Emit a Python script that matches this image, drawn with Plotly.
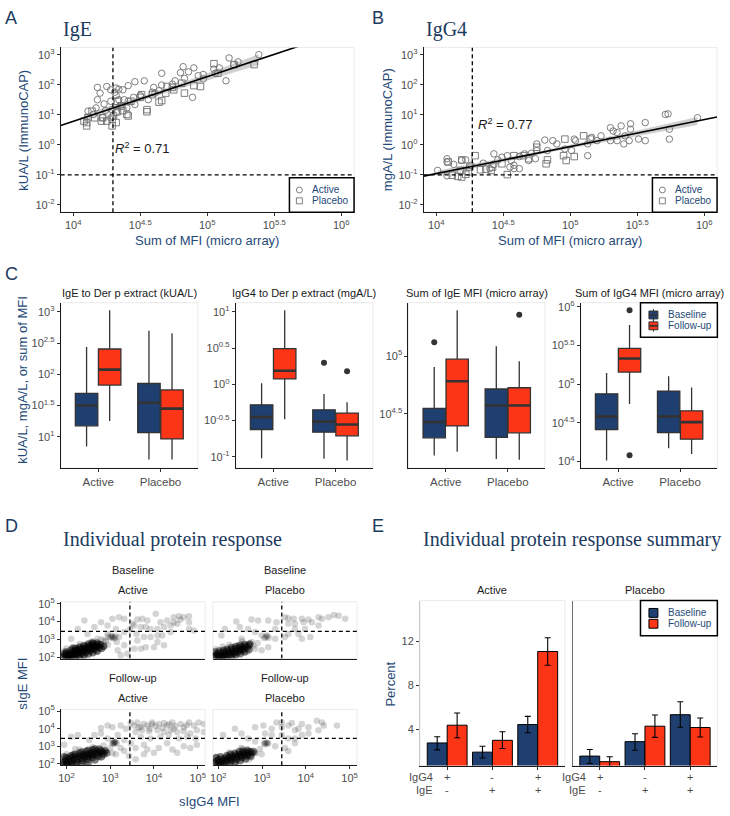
import numpy as np
import plotly.graph_objects as go

# ------------------------------------------------------------------ data
# Panel A (IgE): (log10 sum of MFI, log10 kUA/L)
A_ACTIVE = [(5.385,3.0),(5.163,2.89),(5.198,2.67),(5.049,2.52),(4.970,2.34),(4.933,2.30),(4.86,2.43),(4.90,2.56),
            (4.80,2.40),(4.83,2.21),(4.74,2.02),(4.66,2.38),(4.66,1.99),(4.60,1.91),(4.53,2.13),(4.46,2.10),
            (4.61,1.72),(4.89,1.58),(4.97,2.19),(5.14,2.13),(5.23,2.76),(5.09,2.56),(5.06,2.38),(4.82,2.60),
            (4.76,2.13),(4.64,1.80),(4.41,1.97),(4.37,1.83),(4.31,1.75),(4.34,1.50),(4.40,1.23),(4.46,1.34),
            (4.50,1.64),(4.56,1.50),(4.59,1.75),(4.18,1.91),(4.25,1.94),(4.28,1.83),(4.32,1.89),(4.34,1.85),
            (4.20,1.72),(4.18,1.50),(4.23,1.36),(4.28,1.45),(4.32,1.64),(4.17,1.23),(4.24,1.14),(4.29,1.17),
            (4.35,1.31),(4.41,1.45),(4.45,1.58),(4.38,1.50),(4.22,0.90),(4.28,0.90),(4.32,1.07),(4.15,1.01),
            (4.11,1.12)]
A_PLACEBO = [(5.35,2.67),(5.08,2.38),(5.05,2.70),(5.20,2.67),(4.90,1.97),(4.95,1.94),(4.83,1.72),(4.75,1.83),
             (4.69,1.72),(4.66,1.47),(4.64,1.42),(4.55,1.17),(4.55,1.10),(4.50,1.58),(4.40,1.01),(4.41,0.96),
             (4.37,1.14),(4.33,1.10),(4.36,1.28),(4.30,0.96),(4.29,0.85),(4.32,0.74),(4.29,0.63),(4.25,0.79),
             (4.22,0.90),(4.21,0.79),(4.16,0.90),(4.14,1.12),(4.11,0.90),(4.10,0.74),(4.10,0.63),(4.08,0.79),
             (4.33,1.45),(4.43,1.45),(4.51,1.67),(4.59,1.67),(4.70,1.94),(4.74,1.91),(4.81,2.05)]
A_FIT = (-5.164, 1.486)          # log10(y) = a + b*log10(x)
A_R2 = "0.71"
A_CUTOFF_X = 4.296               # log10 MFI cut-off
A_CUTOFF_Y = -1.0                # log10 kUA/L cut-off

# Panel B (IgG4)
B_ACTIVE = [(5.95,0.90),(5.71,1.01),(5.73,1.03),(5.74,0.19),(5.74,0.52),(5.56,0.74),(5.45,0.70),(5.38,0.63),
            (5.30,0.57),(5.32,0.46),(5.35,0.41),(5.45,0.52),(5.41,0.30),(5.44,0.14),(5.40,0.03),(5.51,0.19),
            (5.56,0.14),(5.35,0.14),(5.30,0.14),(5.23,0.30),(5.20,0.14),(5.16,0.25),(5.13,0.03),(5.13,-0.36),
            (5.04,0.14),(5.03,0.19),(5.01,-0.19),(4.96,-0.14),(4.90,0.03),(4.87,0.14),(4.81,0.16),(4.83,-0.19),
            (4.75,0.03),(4.75,-0.19),(4.71,-0.28),(4.69,-0.52),(4.74,-0.46),(4.66,-0.30),(4.62,-0.39),(4.56,-0.52),
            (4.58,-0.68),(4.58,-0.79),(4.53,-0.36),(4.49,-0.41),(4.46,-0.50),(4.43,-0.65),(4.35,-0.61),(4.43,-0.30),
            (4.62,-0.79),(4.55,-0.74),(4.08,-0.46),(4.08,-0.57),(4.13,-0.65),(4.19,-0.52),(4.22,-0.50),(4.26,-0.68),
            (4.01,-0.85),(4.08,-1.03),(4.40,-0.79)]
B_PLACEBO = [(5.10,0.30),(5.15,0.19),(4.96,0.19),(4.95,-0.36),(5.03,-0.39),(4.97,-0.52),(4.75,-0.08),(4.83,-0.50),
             (4.82,-0.63),(4.69,-0.46),(4.65,-0.36),(4.58,-0.36),(4.49,-0.63),(4.42,-0.74),(4.41,-0.85),(4.37,-0.81),
             (4.33,-0.83),(4.29,-0.36),(4.53,-0.99),(4.19,-0.50),(4.09,-0.57),(4.25,-0.74),(4.18,-0.85),(4.12,-1.01),
             (4.16,-1.05),(4.19,-1.07),(4.22,-0.98),(4.24,-0.90)]
B_FIT = (-4.544, 0.897)
B_R2 = "0.77"
B_CUTOFF_X = 4.269
B_CUTOFF_Y = -1.0

# Panel C: box statistics, log10 units, [Active, Placebo] per measure
C_TITLES = ["IgE to Der p extract (kUA/L)", "IgG4 to Der p extract (mgA/L)",
            "Sum of IgE MFI (micro array)", "Sum of IgG4 MFI (micro array)"]
C_GROUPS = ["Active", "Placebo"]
C_TIMEPOINTS = ["Baseline", "Follow-up"]
C_BASE_LOW  = [[0.844, 0.634], [-1.018, -1.027], [4.137, 4.106], [4.012, 4.170]]
C_BASE_Q1   = [[1.175, 1.065], [-0.623, -0.660], [4.291, 4.295], [4.413, 4.374]]
C_BASE_MED  = [[1.500, 1.544], [-0.452, -0.514], [4.428, 4.572], [4.582, 4.582]]
C_BASE_Q3   = [[1.696, 1.853], [-0.283, -0.351], [4.546, 4.715], [4.876, 4.911]]
C_BASE_HIGH = [[2.437, 2.696], [0.016, -0.133], [4.906, 5.086], [5.144, 5.102]]
C_FU_LOW    = [[1.254, 0.634], [-0.483, -1.050], [4.171, 4.100], [4.745, 4.097]]
C_FU_Q1     = [[1.828, 0.965], [0.075, -0.710], [4.394, 4.334], [5.157, 4.289]]
C_FU_MED    = [[2.074, 1.450], [0.188, -0.555], [4.783, 4.572], [5.332, 4.510]]
C_FU_Q3     = [[2.405, 1.749], [0.492, -0.397], [4.974, 4.726], [5.464, 4.655]]
C_FU_HIGH   = [[3.027, 2.658], [1.023, -0.248], [5.400, 4.957], [5.766, 4.957]]
# outliers: (measure index, group index, timepoint, log10 value)
C_OUTLIERS = [(1, 1, "Baseline", 0.297), (1, 1, "Follow-up", 0.180),
              (2, 0, "Baseline", 5.120), (2, 1, "Follow-up", 5.360),
              (3, 0, "Follow-up", 5.958), (3, 0, "Follow-up", 4.080)]
C_Y_TICKS = [[1, 1.5, 2, 2.5, 3], [-1, -0.5, 0, 0.5, 1], [4.5, 5], [4, 4.5, 5, 5.5, 6]]

# Panel D: individual proteins, (log10 sIgG4 MFI, log10 sIgE MFI)
D_BASE_ACT = [(4.04,4.43),(4.45,4.24),(4.57,4.30),(4.68,4.24),(4.80,4.30),(4.30,4.06),(4.15,3.96),(3.85,4.06),
              (3.73,4.15),(3.62,4.11),(3.51,3.87),(3.55,3.78),(3.70,3.69),(3.81,3.69),(3.92,3.59),(4.08,3.59),
              (4.23,3.69),(4.38,3.78),(4.53,3.87),(4.80,3.96),(4.91,3.50),(4.80,3.59),(4.38,3.41),(4.08,3.22),
              (3.92,3.13),(3.77,3.13),(3.62,2.94),(3.55,2.48),(3.70,2.48),(3.81,2.57),(4.00,2.57),(4.23,2.67),
              (4.08,2.85),(4.19,3.22),(3.32,4.15),(3.20,4.24),(3.05,4.15),(2.79,3.96),(2.41,4.06),(2.64,3.69),
              (2.94,3.78),(3.13,3.59),(3.32,3.41),(3.20,3.13),(3.05,3.13),(2.94,3.31),(2.86,2.94),(2.71,3.04),
              (2.56,2.85),(2.48,3.31),(2.11,3.04),(2.26,3.59),(3.32,2.67),(3.39,2.20),(3.24,2.11),(3.17,2.39),
              (3.00,3.10),(3.05,3.15),(3.10,3.10),(3.02,3.20),(3.08,3.05),(2.95,3.15),(3.12,3.18),
              (2.00,2.50),(2.30,2.75),(2.60,2.90),(2.85,2.60),(2.70,2.30),(2.40,2.00),(1.95,2.35),(2.90,2.90),
              (2.80,3.00),(2.55,2.75),(2.95,2.70),(3.15,2.85),(3.45,3.55),(3.60,3.30),(4.45,3.95),(4.60,4.10)]
D_BASE_PLA = [(2.41,4.00),(2.76,4.11),(2.91,4.06),(3.14,4.06),(3.33,3.96),(3.52,4.24),(3.60,4.19),(3.72,4.15),
              (3.91,4.15),(4.06,4.11),(4.29,4.24),(4.37,4.15),(4.52,4.24),(4.64,4.37),(4.75,4.33),(4.90,4.15),
              (3.60,3.87),(3.75,3.87),(3.95,3.96),(4.14,3.96),(3.75,3.59),(3.98,3.59),(4.29,3.78),(3.60,3.31),
              (3.83,3.31),(3.91,3.04),(4.10,3.13),(3.52,3.13),(3.30,3.04),(2.99,3.22),(2.84,3.41),(2.68,3.59),
              (2.49,3.69),(2.15,3.59),(2.53,3.04),(2.76,2.85),(3.14,2.57),(2.84,2.48),(2.99,2.39),(2.45,2.67),
              (2.07,3.22),(3.30,3.59),
              (3.08,3.12),(3.12,3.18),(3.05,3.08),(3.15,3.10),(3.10,3.22),
              (1.95,2.45),(2.25,2.70),(2.55,2.90),(2.80,2.65),(2.65,2.30),(2.35,2.05),(2.90,2.80),(2.10,2.60)]
D_FU_ACT = [(2.79,4.04),(2.94,4.18),(3.05,4.09),(3.24,4.18),(3.36,4.00),(3.47,4.33),(3.55,4.18),(3.62,4.36),
            (3.70,4.09),(3.77,4.27),(3.85,4.18),(3.96,4.36),(4.04,4.15),(4.11,4.27),(4.23,4.33),(4.30,4.18),
            (4.42,4.36),(4.49,4.15),(4.61,4.27),(4.68,4.09),(4.80,4.36),(4.91,4.18),(5.02,4.36),(5.14,4.27),
            (3.58,3.82),(3.73,3.91),(3.89,3.85),(4.08,3.91),(4.23,3.82),(4.38,3.91),(4.53,3.82),(4.68,3.85),
            (4.83,3.73),(4.98,3.91),(5.14,3.82),(3.70,3.55),(3.92,3.45),(4.15,3.55),(4.34,3.64),(4.57,3.45),
            (4.76,3.55),(4.95,3.45),(3.77,3.09),(4.00,2.64),(4.11,2.91),(4.30,3.18),(4.42,2.82),(4.53,2.64),
            (4.68,3.00),(4.83,2.91),(4.98,3.09),(3.85,2.82),(3.58,2.91),(3.47,3.18),(3.32,3.36),(3.17,3.64),
            (3.09,3.27),(2.94,3.45),(2.79,3.73),(2.64,3.64),(2.52,3.36),(2.26,3.64),(2.11,3.55),(1.95,3.09),
            (3.24,2.91),(3.32,2.73),(3.13,2.55),(3.43,2.45),(3.58,2.27),(3.77,2.55),
            (3.05,3.20),(3.10,3.15),(3.12,3.25),(3.08,3.22),(3.15,3.18),(3.06,3.16),(3.11,3.21),
            (2.00,2.55),(2.30,2.80),(2.60,2.95),(2.90,2.70),(2.75,2.35),(2.45,2.00),(3.00,2.90),(2.85,3.05),
            (2.20,2.85),(1.95,2.30),(3.05,2.60),(3.65,4.05),(3.90,4.00),(4.20,4.05),(4.45,4.00),(4.75,4.20),
            (3.95,4.25),(4.35,4.25)]
D_FU_PLA = [(2.38,4.00),(2.53,3.73),(2.84,4.09),(3.03,4.18),(3.22,4.00),(3.33,4.36),(3.45,4.09),(3.60,4.18),
            (3.68,4.33),(3.75,3.91),(3.91,4.27),(4.06,4.09),(4.25,4.45),(4.37,4.36),(4.41,4.18),(4.71,4.18),
            (3.07,3.73),(3.22,3.64),(3.45,3.64),(3.60,3.45),(3.75,3.45),(3.91,3.64),(4.06,3.73),(3.52,2.91),
            (3.60,2.73),(3.75,3.18),(3.14,3.18),(3.30,3.00),(2.84,3.27),(2.68,3.45),(2.11,3.64),(2.53,2.91),
            (2.84,2.64),(2.99,2.55),(2.76,2.36),(3.45,4.36),(3.83,4.00),(4.29,3.91),
            (3.05,3.15),(3.10,3.20),(3.08,3.12),(3.12,3.18),(3.06,3.22),
            (1.95,2.40),(2.25,2.65),(2.55,2.85),(2.85,2.60),(2.70,2.25),(2.40,2.00),(2.95,2.85)]
# dense low-signal cores of the clouds (same units)
D_BASE_ACT_CORE = [(1.92,2.05),(1.97,2.10),(2.00,2.18),(2.04,2.08),(2.07,2.22),(2.10,2.14),(2.13,2.28),(2.16,2.18),
                   (2.19,2.32),(2.22,2.22),(2.25,2.38),(2.28,2.26),(2.31,2.42),(2.34,2.30),(2.37,2.46),(2.40,2.36),
                   (2.43,2.50),(2.46,2.40),(2.49,2.55),(2.52,2.46),(2.55,2.60),(2.58,2.50),(2.61,2.64),(2.64,2.56),
                   (2.67,2.68),(2.70,2.62),(2.74,2.72),(2.78,2.70),(2.05,2.02),(2.15,2.06),(2.25,2.12),(2.35,2.20),
                   (2.45,2.28),(2.55,2.36),(2.65,2.45),(2.30,2.50),(2.40,2.58),(2.50,2.64),(2.20,2.40),(2.60,2.74),
                   (2.00,2.30),(2.10,2.40),(2.20,2.50),(2.30,2.58),(2.40,2.66),(2.50,2.74),(2.60,2.80),(2.70,2.80),
                   (2.00,1.98),(2.10,2.00),(2.20,2.04),(2.30,2.08),(2.40,2.12),(2.50,2.18),(2.60,2.26),(2.70,2.36),
                   (2.80,2.50),(1.95,2.22),(2.15,2.52),(2.55,2.48),(2.75,2.55),(2.85,2.62)]
D_BASE_PLA_CORE = [(1.90,2.05),(1.95,2.12),(1.98,2.20),(2.02,2.08),(2.06,2.25),(2.10,2.15),(2.14,2.30),(2.18,2.20),
                   (2.22,2.35),(2.26,2.25),(2.30,2.42),(2.34,2.30),(2.38,2.48),(2.42,2.36),(2.46,2.52),(2.50,2.42),
                   (2.54,2.58),(2.58,2.48),(2.62,2.62),(2.66,2.55),(2.70,2.68),(2.05,2.02),(2.15,2.08),(2.25,2.15),
                   (2.35,2.22),(2.45,2.30),(2.55,2.40),(2.20,2.45),(2.40,2.60),(2.60,2.72),(1.92,2.30),(2.12,2.40),
                   (2.00,1.98),(2.10,2.00),(2.20,2.04),(2.30,2.08),(2.40,2.14),(2.50,2.20),(2.60,2.30),(2.70,2.42),
                   (2.02,2.35),(2.30,2.55),(2.50,2.68),(2.72,2.74)]
D_FU_ACT_CORE = [(1.90,2.00),(1.94,2.10),(1.98,2.20),(2.02,2.05),(2.06,2.30),(2.10,2.15),(2.14,2.35),(2.18,2.22),
                 (2.22,2.40),(2.26,2.28),(2.30,2.45),(2.34,2.32),(2.38,2.50),(2.42,2.38),(2.46,2.55),(2.50,2.42),
                 (2.54,2.60),(2.58,2.48),(2.62,2.65),(2.66,2.55),(2.70,2.70),(2.74,2.60),(2.78,2.75),(2.82,2.68),
                 (2.00,1.98),(2.12,2.02),(2.24,2.10),(2.36,2.18),(2.48,2.26),(2.60,2.36),(2.72,2.45),(2.15,2.50),
                 (2.30,2.62),(2.45,2.72),(2.60,2.80),(1.95,2.40),(2.85,2.55),(2.05,2.12),(2.40,2.45),(2.55,2.52),
                 (2.00,2.35),(2.10,2.45),(2.20,2.55),(2.35,2.68),(2.50,2.78),(2.65,2.85),(2.75,2.85),(2.88,2.75),
                 (2.20,1.98),(2.35,2.02),(2.50,2.10),(2.65,2.22),(2.80,2.40),(2.92,2.62)]
D_FU_PLA_CORE = [(1.92,2.05),(1.96,2.15),(2.00,2.22),(2.04,2.10),(2.08,2.28),(2.12,2.18),(2.16,2.33),(2.20,2.22),
                 (2.24,2.38),(2.28,2.28),(2.32,2.44),(2.36,2.33),(2.40,2.50),(2.44,2.40),(2.48,2.55),(2.52,2.45),
                 (2.56,2.60),(2.60,2.50),(2.64,2.66),(2.68,2.58),(2.72,2.70),(2.06,2.02),(2.18,2.10),(2.30,2.18),
                 (2.42,2.26),(2.54,2.35),(2.66,2.45),(2.20,2.48),(2.38,2.60),(2.56,2.72),(1.95,2.35),(2.76,2.62),
                 (2.00,1.98),(2.12,2.00),(2.25,2.04),(2.38,2.10),(2.50,2.18),(2.62,2.28),(2.74,2.45),
                 (2.05,2.40),(2.28,2.55),(2.48,2.70),(2.66,2.78),(2.80,2.70)]
D_CUTOFF = 3.45                  # log10 MFI threshold for both isotypes

# Panel E: percent of proteins per response pattern
E_PATTERN_IGG4 = ["+", "-", "+"]
E_PATTERN_IGE = ["-", "+", "+"]
E_ACT_BASE = [2.74, 1.90, 4.42];  E_ACT_BASE_LO = [2.11, 1.36, 3.67];  E_ACT_BASE_HI = [3.31, 2.44, 5.17]
E_ACT_FU   = [4.36, 2.98, 11.09]; E_ACT_FU_LO   = [3.22, 2.23, 9.83];  E_ACT_FU_HI   = [5.47, 3.76, 12.35]
E_PLA_BASE = [1.54, 2.86, 5.32];  E_PLA_BASE_LO = [0.87, 2.08, 4.18];  E_PLA_BASE_HI = [2.14, 3.58, 6.50]
E_PLA_FU   = [1.03, 4.27, 4.15];  E_PLA_FU_LO   = [0.60, 3.25, 3.28];  E_PLA_FU_HI   = [1.48, 5.29, 5.02]

# ------------------------------------------------------------------ style
W, H = 730, 816
BLUE = "#1e3f6f"
RED = "#fd3517"
NAVY = "#1f4a78"
LETTER = "#1c3a60"
TICKC = "#4d4d4d"
PTGRAY = "#707070"
SANS = "Liberation Sans, Arial, sans-serif"
SERIF = "Liberation Serif, Times New Roman, serif"


def fx(p):
    return p / W


def fy(p):
    return 1 - p / H


fig = go.Figure()
layout = dict(width=W, height=H, margin=dict(l=0, r=0, t=0, b=0), showlegend=False,
              paper_bgcolor="white", plot_bgcolor="white", barmode="overlay",
              boxmode="overlay", hovermode=False)
annotations = []
shapes = []


def axname(i, k):
    return f"{k}axis" if i == 1 else f"{k}axis{i}"


def axref(i, k):
    return k if i == 1 else f"{k}{i}"


def base_axis(**kw):
    d = dict(showgrid=False, zeroline=False, showline=True, linecolor="#1a1a1a", linewidth=1,
             ticks="outside", ticklen=3, tickwidth=1, tickcolor="#333333",
             tickfont=dict(family=SANS, size=11, color=TICKC))
    d.update(kw)
    return d


def make_axes(i, xpx, ypx, xkw, ykw, border="#ebebeb"):
    layout[axname(i, "x")] = base_axis(domain=[fx(xpx[0]), fx(xpx[1])], anchor=axref(i, "y"), **xkw)
    layout[axname(i, "y")] = base_axis(domain=[fy(ypx[1]), fy(ypx[0])], anchor=axref(i, "x"), **ykw)
    shapes.append(dict(type="rect", xref=f"{axref(i, 'x')} domain", yref=f"{axref(i, 'y')} domain",
                       x0=0, x1=1, y0=0, y1=1, line=dict(color=border, width=1), layer="below"))


def fmt(e):
    return str(int(e)) if float(e).is_integer() else str(e)


def log_ticks(exps):
    return dict(tickvals=[10.0 ** e for e in exps], ticktext=[f"10<sup>{fmt(e)}</sup>" for e in exps])


def ann(text, x, y, size=11, color="#1a1a1a", family=SANS, xanchor="center", yanchor="middle",
        angle=0, xref="paper", yref="paper"):
    annotations.append(dict(text=text, x=x, y=y, xref=xref, yref=yref, showarrow=False,
                            xanchor=xanchor, yanchor=yanchor, textangle=angle,
                            font=dict(family=family, size=size, color=color)))


def pshape(kind, x0, y0, x1, y1, **kw):
    shapes.append(dict(type=kind, xref="paper", yref="paper", x0=fx(x0), x1=fx(x1),
                       y0=fy(y1), y1=fy(y0), layer="above", **kw))


def legend_box(box, key_x, text_x, entries, key):
    """box: (left, top, right, bottom) px; entries: (label, colour) drawn with key()."""
    pshape("rect", box[0], box[1], box[2], box[3], line=dict(color="black", width=1.5), fillcolor="white")
    for k, (label, col) in enumerate(entries):
        cy = box[1] + 12.5 + 11 * k
        key(k, key_x, cy, col)
        ann(label, fx(text_x), fy(cy), size=10, color=NAVY, xanchor="left")


def xy(i):
    return dict(xaxis=axref(i, "x"), yaxis=axref(i, "y"))


def unzip(pairs):
    a = np.array(pairs, dtype=float)
    return a[:, 0], a[:, 1]


# ------------------------------------------------------------------ panels A & B
def point_key(k, cx, cy, col):
    kind = "circle" if k == 0 else "rect"
    pshape(kind, cx - 3, cy - 3, cx + 3, cy + 3, line=dict(color=PTGRAY, width=0.9))


def scatter_panel(i, xpx, active, placebo, fit, r2, cx, cy, r2pos, ytitle, ytitle_x):
    xr, yr = [3.906, 6.096], [-2.24, 3.24]
    make_axes(i, xpx, (42, 209),
              dict(type="log", range=xr, **log_ticks([4, 4.5, 5, 5.5, 6])),
              dict(type="log", range=yr, **log_ticks([-2, -1, 0, 1, 2, 3])))
    ax, ay = unzip(active)
    px_, py_ = unzip(placebo)
    allx = np.concatenate([ax, px_])
    ally = np.concatenate([ay, py_])
    a, b = fit
    # confidence ribbon of the fit
    xs = np.linspace(allx.min(), allx.max(), 60)
    resid = ally - (a + b * allx)
    s = np.sqrt(np.sum(resid ** 2) / (len(allx) - 2))
    se = s * np.sqrt(1 / len(allx) + (xs - allx.mean()) ** 2 / np.sum((allx - allx.mean()) ** 2))
    ys = a + b * xs
    band_y = np.concatenate([ys + 1.98 * se, (ys - 1.98 * se)[::-1]])
    fig.add_trace(go.Scatter(x=10 ** np.concatenate([xs, xs[::-1]]), y=10 ** band_y, fill="toself",
                             fillcolor="rgba(150,150,150,0.45)", line=dict(width=0), mode="lines",
                             **xy(i)))
    for pts, sym, name in [(active, "circle-open", "Active"), (placebo, "square-open", "Placebo")]:
        lx, ly = unzip(pts)
        fig.add_trace(go.Scatter(x=10 ** lx, y=10 ** ly, mode="markers", name=name,
                                 marker=dict(symbol=sym, size=6.5, color=PTGRAY, line=dict(width=0.9)),
                                 **xy(i)))
    xl = np.array(xr)
    fig.add_trace(go.Scatter(x=10 ** xl, y=10 ** (a + b * xl), mode="lines",
                             line=dict(color="black", width=1.6), **xy(i)))
    fig.add_trace(go.Scatter(x=[10 ** cx, 10 ** cx], y=[10 ** yr[0], 10 ** yr[1]], mode="lines",
                             line=dict(color="black", width=1.3, dash="4px,3px"), **xy(i)))
    fig.add_trace(go.Scatter(x=[10 ** xr[0], 10 ** xr[1]], y=[10 ** cy, 10 ** cy], mode="lines",
                             line=dict(color="black", width=1.3, dash="4px,3px"), **xy(i)))
    ann(f"<i>R</i><sup>2</sup> = {r2}", fx(r2pos[0]), fy(r2pos[1]), size=13, color="#1a1a1a", xanchor="left")
    ann(ytitle, fx(ytitle_x), fy(125.5), size=13, color=NAVY, angle=-90)
    ann("Sum of MFI (micro array)", fx((xpx[0] + xpx[1]) / 2), fy(238), size=13, color=NAVY)
    legend_box((xpx[1] - 65, 174, xpx[1], 209), xpx[1] - 55, xpx[1] - 44,
               [("Active", PTGRAY), ("Placebo", PTGRAY)], point_key)


scatter_panel(1, (58, 353), A_ACTIVE, A_PLACEBO, A_FIT, A_R2, A_CUTOFF_X, A_CUTOFF_Y,
              (110.5, 144), "kUA/L (ImmunoCAP)", 21)
scatter_panel(2, (423, 718), B_ACTIVE, B_PLACEBO, B_FIT, B_R2, B_CUTOFF_X, B_CUTOFF_Y,
              (475.5, 120), "mgA/L (ImmunoCAP)", 386.5)
ann("IgE", fx(58), fy(24), size=20, color=LETTER, family=SERIF, xanchor="left")
ann("IgG4", fx(423), fy(24), size=20, color=LETTER, family=SERIF, xanchor="left")

# ------------------------------------------------------------------ panel C
C_X = [(58, 196), (234, 372), (407.7, 545), (581, 718.3)]
C_YR = [[0.50, 3.147], [-1.154, 1.127], [4.029, 5.465], [3.916, 6.055]]
OFF, BW = 0.185, 0.36
for s in range(4):
    i = 3 + s
    make_axes(i, C_X[s], (300.7, 468.3),
              dict(range=[0.4, 2.6], tickvals=[1, 2], ticktext=C_GROUPS,
                   tickfont=dict(family=SANS, size=11.5, color=TICKC)),
              dict(type="log", range=C_YR[s], **log_ticks(C_Y_TICKS[s])))
    for tp, off, col, lo, q1, md, q3, hi in [
            (C_TIMEPOINTS[0], -OFF, BLUE, C_BASE_LOW, C_BASE_Q1, C_BASE_MED, C_BASE_Q3, C_BASE_HIGH),
            (C_TIMEPOINTS[1], OFF, RED, C_FU_LOW, C_FU_Q1, C_FU_MED, C_FU_Q3, C_FU_HIGH)]:
        pos = [1 + off, 2 + off]
        fig.add_trace(go.Box(x=pos, q1=[10 ** v for v in q1[s]], median=[10 ** v for v in md[s]],
                             q3=[10 ** v for v in q3[s]], lowerfence=[10 ** v for v in lo[s]],
                             upperfence=[10 ** v for v in hi[s]], width=BW, fillcolor=col,
                             line=dict(color="#333333", width=1.3), whiskerwidth=0, boxpoints=False,
                             name=tp, **xy(i)))
        mx, my = [], []
        for g in range(2):
            mx += [pos[g] - BW / 2, pos[g] + BW / 2, None]
            my += [10 ** md[s][g], 10 ** md[s][g], None]
        fig.add_trace(go.Scatter(x=mx, y=my, mode="lines", line=dict(color="#333333", width=2.6), **xy(i)))
    ox, oy = [], []
    for (m, g, tp, v) in C_OUTLIERS:
        if m == s:
            ox.append(g + 1 + (-OFF if tp == "Baseline" else OFF))
            oy.append(10 ** v)
    if ox:
        fig.add_trace(go.Scatter(x=ox, y=oy, mode="markers", marker=dict(color="#333333", size=6), **xy(i)))
    ann(C_TITLES[s], fx((C_X[s][0] + C_X[s][1]) / 2), fy(291), size=11, color="#1a1a1a")


def box_key(k, cx, cy, col):
    pshape("line", cx, cy - 6, cx, cy + 6, line=dict(color="#333333", width=1))
    pshape("rect", cx - 4.5, cy - 4, cx + 4.5, cy + 4, line=dict(color="#333333", width=1), fillcolor=col)
    pshape("line", cx - 4.5, cy, cx + 4.5, cy, line=dict(color="#333333", width=1.8))


legend_box((641, 300.7, 718.3, 335.7), 654, 666.5, [(C_TIMEPOINTS[0], BLUE), (C_TIMEPOINTS[1], RED)], box_key)
ann("kUA/L, mgA/L, or sum of MFI", fx(20), fy(379), size=13, color=NAVY, angle=-90)

# ------------------------------------------------------------------ panel D
D_XR, D_YR = [1.875, 5.17], [1.93, 5.1]
D_PANELS = [(7, (58.3, 203.3), (604, 661.5), D_BASE_ACT, D_BASE_ACT_CORE, "Baseline", "Active", True, False),
            (8, (211, 356), (604, 661.5), D_BASE_PLA, D_BASE_PLA_CORE, "Baseline", "Placebo", False, False),
            (9, (58.3, 203.3), (713, 769.5), D_FU_ACT, D_FU_ACT_CORE, "Follow-up", "Active", True, True),
            (10, (211, 356), (713, 769.5), D_FU_PLA, D_FU_PLA_CORE, "Follow-up", "Placebo", False, True)]
for (i, xp, yp, pts, core, tp, grp, show_y, show_x) in D_PANELS:
    make_axes(i, xp, yp,
              dict(type="log", range=D_XR, showticklabels=show_x, ticks="outside" if show_x else "",
                   **log_ticks([2, 3, 4, 5])),
              dict(type="log", range=D_YR, showticklabels=show_y, ticks="outside" if show_y else "",
                   showline=show_y, **log_ticks([2, 3, 4, 5])))
    lx, ly = unzip(pts)
    fig.add_trace(go.Scatter(x=10 ** lx, y=10 ** ly, mode="markers",
                             marker=dict(color="rgba(0,0,0,0.17)", size=6.5, line=dict(width=0)), **xy(i)))
    cx, cy = unzip(core)
    fig.add_trace(go.Scatter(x=10 ** cx, y=10 ** cy, mode="markers",
                             marker=dict(color="rgba(0,0,0,0.5)", size=7.5, line=dict(width=0)), **xy(i)))
    fig.add_trace(go.Scatter(x=[10 ** D_CUTOFF] * 2, y=[10 ** D_YR[0], 10 ** D_YR[1]], mode="lines",
                             line=dict(color="black", width=1.3, dash="4px,3px"), **xy(i)))
    fig.add_trace(go.Scatter(x=[10 ** D_XR[0], 10 ** D_XR[1]], y=[10 ** D_CUTOFF] * 2, mode="lines",
                             line=dict(color="black", width=1.3, dash="4px,3px"), **xy(i)))
    xc = fx((xp[0] + xp[1]) / 2)
    ann(tp, xc, fy(yp[0] - 32.3), size=11)
    ann(grp, xc, fy(yp[0] - 11.7), size=11)
ann("Individual protein response", fx(58), fy(541), size=20, color=LETTER, family=SERIF, xanchor="left")
ann("sIgE MFI", fx(20), fy(687), size=13, color=NAVY, angle=-90)
ann("sIgG4 MFI", fx(207.5), fy(806.5), size=13, color=NAVY)

# ------------------------------------------------------------------ panel E
E_X = [(419.3, 565), (572.7, 718.3)]
E_DATA = [("Active", E_ACT_BASE, E_ACT_BASE_LO, E_ACT_BASE_HI, E_ACT_FU, E_ACT_FU_LO, E_ACT_FU_HI),
          ("Placebo", E_PLA_BASE, E_PLA_BASE_LO, E_PLA_BASE_HI, E_PLA_FU, E_PLA_FU_LO, E_PLA_FU_HI)]
groups = np.arange(1, len(E_PATTERN_IGE) + 1)
BOFF, BWID = 0.22, 0.44
for p, (grp, bv, bl, bh, fv, fl, fh) in enumerate(E_DATA):
    i = 11 + p
    make_axes(i, E_X[p], (602.7, 770),
              dict(range=[0.4, 3.6], tickvals=list(groups), showticklabels=False),
              dict(range=[0.67, 15.74], tickvals=[4, 8, 12], showticklabels=(p == 0),
                   ticks="outside" if p == 0 else "", linecolor="#c8c8c8" if p == 0 else "#6e6e6e"))
    for tp, off, col, v, lo, hi in [(C_TIMEPOINTS[0], -BOFF, BLUE, bv, bl, bh),
                                    (C_TIMEPOINTS[1], BOFF, RED, fv, fl, fh)]:
        v = np.array(v)
        fig.add_trace(go.Bar(x=groups + off, y=v, width=BWID, name=tp,
                             marker=dict(color=col, line=dict(color="black", width=1)),
                             error_y=dict(type="data", symmetric=False, array=np.array(hi) - v,
                                          arrayminus=v - np.array(lo), color="black", thickness=1.1, width=3),
                             **xy(i)))
    ann(grp, fx((E_X[p][0] + E_X[p][1]) / 2), fy(592.3), size=11)
    for g in range(len(groups)):
        ann(E_PATTERN_IGG4[g], groups[g], fy(781.7), size=11, color=TICKC, xref=axref(i, "x"))
        ann(E_PATTERN_IGE[g], groups[g], fy(795), size=11, color=TICKC, xref=axref(i, "x"))
    ann("IgG4", 0.74, fy(781.7), size=11, color=TICKC, xanchor="right", xref=axref(i, "x"))
    ann("IgE", 0.74, fy(795), size=11, color=TICKC, xanchor="right", xref=axref(i, "x"))


def bar_key(k, cx, cy, col):
    pshape("rect", cx - 4.5, cy - 4.5, cx + 4.5, cy + 4.5, line=dict(color="black", width=1), fillcolor=col)


legend_box((641, 602.7, 718.3, 638.3), 654, 666.5, [(C_TIMEPOINTS[0], BLUE), (C_TIMEPOINTS[1], RED)], bar_key)
ann("Individual protein response summary", fx(420), fy(541), size=20, color=LETTER, family=SERIF,
    xanchor="left")
ann("Percent", fx(390), fy(687), size=13, color=NAVY, angle=-90)

# ------------------------------------------------------------------ panel letters
for letter, x, y in [("A", 0.5, 0), ("B", 369, 0), ("C", 0.5, 260), ("D", 0.5, 515), ("E", 369, 515)]:
    ann(letter, fx(x), fy(y), size=18, color=LETTER, xanchor="left", yanchor="top")

layout["annotations"] = annotations
layout["shapes"] = shapes
fig.update_layout(**layout)
fig.write_html("out.html")
